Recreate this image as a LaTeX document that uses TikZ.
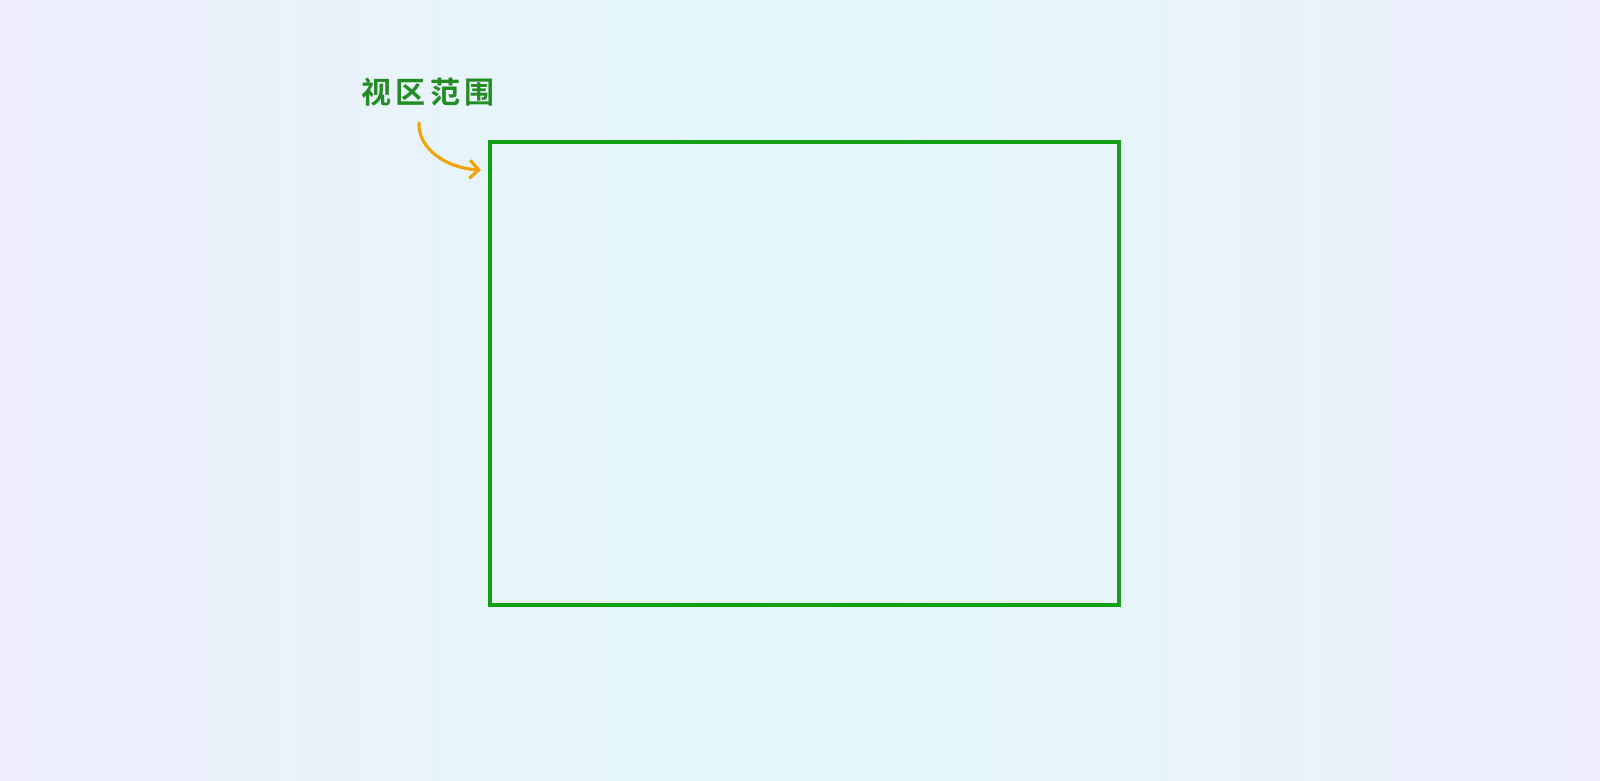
\documentclass[tikz,border=0pt]{standalone}
\usepackage{fontspec}
\newfontfamily\cjk[LetterSpace=14,BoldFont={Noto Sans CJK SC Bold}]{Noto Sans CJK SC}
\usetikzlibrary{arrows.meta}
\definecolor{bgA}{RGB}{238,238,252}
\definecolor{bgB}{RGB}{226,248,250}
\definecolor{boxgreen}{RGB}{20,160,20}
\definecolor{txtgreen}{RGB}{36,140,36}
\definecolor{arroworange}{RGB}{242,164,10}
\tikzset{
  viewbox/.style={draw=boxgreen, line width=4pt, minimum width=629pt, minimum height=463pt, inner sep=0pt},
  lbltext/.style={text=txtgreen, font=\cjk\bfseries\fontsize{30}{33}\selectfont, inner sep=0pt},
  pointer/.style={draw=arroworange, line width=3.2pt, line cap=round, -{Straight Barb[length=9pt,width=18pt,line width=3.2pt]}}
}
\begin{document}
\begin{tikzpicture}[x=1pt,y=-1pt]
\shade[left color=bgA, right color=bgA, middle color=bgB] (0,0) rectangle (1600,781);
\useasboundingbox (0,0) rectangle (1600,781);
\node[viewbox] (view) at (804.5,373.5) {};
\node[lbltext] (lbl) at (428,92) {视区范围};
\coordinate (src) at (419,123);
\coordinate (dst) at (481,170);
\draw[pointer] (src) .. controls (418,148) and (445,168) .. (dst);
\end{tikzpicture}
\end{document}
